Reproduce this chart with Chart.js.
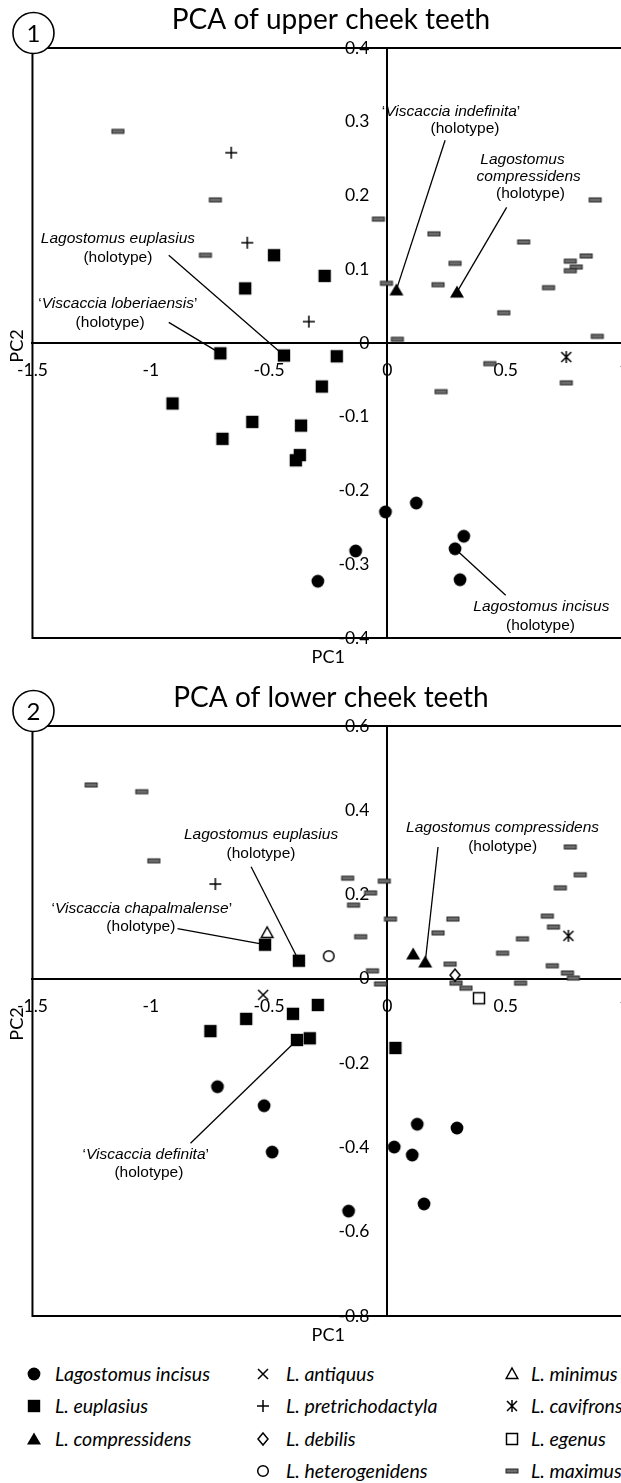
<!DOCTYPE html>
<html>
<head>
<meta charset="utf-8">
<script src="https://cdn.jsdelivr.net/npm/chart.js@4.4.1/dist/chart.umd.min.js"></script>
<style>
  html, body { margin: 0; padding: 0; background: #fff; }
  body { position: relative; width: 621px; height: 1483px; overflow: hidden; }
  canvas.plot { position: absolute; left: 0; }
  #upper { top: 0; }
  #lower { top: 678px; }
  .mk { position: absolute; }
  .lg { position: absolute; font: italic 19.5px Lato, sans-serif; line-height: 24px; color: #000; white-space: nowrap; }
</style>
</head>
<body>
<canvas id="upper" class="plot" width="680" height="678"></canvas>
<canvas id="lower" class="plot" width="680" height="678"></canvas>
<div id="legend"></div>
<script>
// PC1 / PC2 scores, upper cheek teeth
const upperIncisus = [[-0.008, -0.229], [0.122, -0.217], [0.323, -0.262], [0.286, -0.279], [0.307, -0.321], [-0.134, -0.282], [-0.294, -0.323]];
const upperEuplasius = [[-0.479, 0.119], [-0.601, 0.074], [-0.265, 0.091], [-0.706, -0.014], [-0.437, -0.017], [-0.908, -0.082], [-0.571, -0.107],
  [-0.697, -0.130], [-0.365, -0.112], [-0.370, -0.152], [-0.387, -0.159], [-0.214, -0.018], [-0.277, -0.059]];
const upperCompressidens = [[0.038, 0.072], [0.294, 0.069]];
const upperPretrichodactyla = [[-0.660, 0.258], [-0.592, 0.136], [-0.332, 0.029]];
const upperCavifrons = [[0.756, -0.019]];
const upperMaximus = [[-1.139, 0.287], [-0.727, 0.194], [-0.769, 0.119], [-0.038, 0.168], [-0.004, 0.081], [0.197, 0.148], [0.286, 0.108],
  [0.214, 0.079], [0.576, 0.137], [0.681, 0.075], [0.492, 0.041], [0.878, 0.194], [0.840, 0.118], [0.773, 0.111], [0.798, 0.103],
  [0.773, 0.098], [0.887, 0.009], [0.042, 0.005], [0.433, -0.028], [0.227, -0.066], [0.756, -0.054]];

// lower cheek teeth
const lowerIncisus = [[-0.718, -0.256], [-0.521, -0.301], [-0.487, -0.411], [-0.164, -0.551], [0.029, -0.399], [0.126, -0.345],
  [0.105, -0.418], [0.294, -0.354], [0.155, -0.534]];
const lowerEuplasius = [[-0.517, 0.081], [-0.374, 0.043], [-0.748, -0.124], [-0.597, -0.095], [-0.399, -0.083], [-0.294, -0.062],
  [-0.382, -0.145], [-0.328, -0.141], [0.034, -0.164]];
const lowerCompressidens = [[0.109, 0.059], [0.160, 0.040]];
const lowerAntiquus = [[-0.525, -0.038]];
const lowerPretrichodactyla = [[-0.727, 0.225]];
const lowerDebilis = [[0.286, 0.009]];
const lowerHeterogenidens = [[-0.248, 0.054]];
const lowerMinimus = [[-0.508, 0.109]];
const lowerCavifrons = [[0.765, 0.102]];
const lowerEgenus = [[0.387, -0.046]];
const lowerMaximus = [[-1.252, 0.460], [-1.038, 0.444], [-0.987, 0.280], [-0.168, 0.239], [-0.013, 0.232], [-0.071, 0.204], [-0.143, 0.175],
  [0.013, 0.142], [-0.113, 0.100], [0.214, 0.109], [0.277, 0.142], [0.487, 0.061], [0.571, 0.095], [0.773, 0.313], [0.815, 0.247],
  [0.731, 0.216], [0.676, 0.149], [0.702, 0.123], [0.697, 0.031], [0.761, 0.014], [0.786, 0.002], [0.265, 0.035], [-0.063, 0.019],
  [-0.029, -0.012], [0.290, -0.010], [0.332, -0.022], [0.563, -0.010]];

const xTickValues = [-1.5, -1, -0.5, 0, 0.5, 1];
const xTickLabels = ['-1.5', '-1', '-0.5', '0', '0.5', '1'];
const upperYTicks = [0.4, 0.3, 0.2, 0.1, 0, -0.1, -0.2, -0.3, -0.4];
const upperYLabels = ['0.4', '0.3', '0.2', '0.1', '0', '-0.1', '-0.2', '-0.3', '-0.4'];
const lowerYTicks = [0.6, 0.4, 0.2, 0, -0.2, -0.4, -0.6, -0.8];
const lowerYLabels = ['0.6', '0.4', '0.2', '0', '-0.2', '-0.4', '-0.6', '-0.8'];

const speciesNames = ['Lagostomus incisus', 'L. euplasius', 'L. compressidens', 'L. antiquus', 'L. pretrichodactyla', 'L. debilis',
  'L. heterogenidens', 'L. minimus', 'L. cavifrons', 'L. egenus', 'L. maximus'];
const speciesMarkers = ['dot', 'square', 'triangle', 'cross', 'plus', 'diamond', 'ring', 'openTriangle', 'asterisk', 'openSquare', 'bar'];
const legendColumns = [[0, 1, 2], [3, 4, 5, 6], [7, 8, 9, 10]];

// holotype call-outs: text centres and line start in data units, line ends on a plotted point
const upperNotes = [
  { lines: [['‘Viscaccia indefinita’', 0.269, 0.313], ['(holotype)', 0.328, 0.290]], from: [0.244, 0.275], to: upperCompressidens[0] },
  { lines: [['Lagostomus', 0.571, 0.248], ['compressidens', 0.597, 0.225], ['(holotype)', 0.605, 0.202]], from: [0.504, 0.184], to: upperCompressidens[1] },
  { lines: [['Lagostomus euplasius', -1.139, 0.142], ['(holotype)', -1.139, 0.115]], from: [-0.924, 0.119], to: upperEuplasius[4] },
  { lines: [['‘Viscaccia loberiaensis’', -1.139, 0.053], ['(holotype)', -1.172, 0.028]], from: [-0.924, 0.028], to: upperEuplasius[3] },
  { lines: [['Lagostomus incisus', 0.651, -0.358], ['(holotype)', 0.647, -0.384]], from: [0.500, -0.342], to: upperIncisus[3] }
];
const lowerNotes = [
  { lines: [['Lagostomus euplasius', -0.534, 0.341], ['(holotype)', -0.534, 0.296]], from: [-0.576, 0.266], to: lowerEuplasius[1] },
  { lines: [['‘Viscaccia chapalmalense’', -1.038, 0.166], ['(holotype)', -1.042, 0.123]], from: [-0.887, 0.119], to: lowerEuplasius[0] },
  { lines: [['Lagostomus compressidens', 0.487, 0.358], ['(holotype)', 0.487, 0.313]], from: [0.214, 0.313], to: lowerCompressidens[1] },
  { lines: [['‘Viscaccia definita’', -1.021, -0.418], ['(holotype)', -1.008, -0.461]], from: [-0.832, -0.390], to: lowerEuplasius[6] }
];

// marker glyphs, drawn once and used as pointStyle images
function makeMarker(kind) {
  const c = document.createElement('canvas');
  c.width = 18; c.height = 18;
  const g = c.getContext('2d');
  const m = 9;
  g.fillStyle = '#000'; g.strokeStyle = '#000'; g.lineWidth = 1.5;
  g.beginPath();
  if (kind === 'dot') { g.arc(m, m, 6.4, 0, Math.PI * 2); g.fill(); }
  else if (kind === 'square') { g.rect(m - 6.2, m - 6.2, 12.4, 12.4); g.fill(); }
  else if (kind === 'triangle') { g.moveTo(m, m - 6.5); g.lineTo(m + 7, m + 5.5); g.lineTo(m - 7, m + 5.5); g.closePath(); g.fill(); }
  else if (kind === 'cross') { g.moveTo(m - 5, m - 5); g.lineTo(m + 5, m + 5); g.moveTo(m + 5, m - 5); g.lineTo(m - 5, m + 5); g.stroke(); }
  else if (kind === 'plus') { g.moveTo(m - 6, m); g.lineTo(m + 6, m); g.moveTo(m, m - 6); g.lineTo(m, m + 6); g.stroke(); }
  else if (kind === 'diamond') { g.moveTo(m, m - 6); g.lineTo(m + 5, m); g.lineTo(m, m + 6); g.lineTo(m - 5, m); g.closePath(); g.fillStyle = '#fff'; g.fill(); g.stroke(); }
  else if (kind === 'ring') { g.arc(m, m, 5.3, 0, Math.PI * 2); g.fillStyle = '#fff'; g.fill(); g.stroke(); }
  else if (kind === 'openTriangle') { g.moveTo(m, m - 6); g.lineTo(m + 5.8, m + 4.5); g.lineTo(m - 5.8, m + 4.5); g.closePath(); g.fillStyle = '#fff'; g.fill(); g.stroke(); }
  else if (kind === 'asterisk') {
    g.moveTo(m - 5, m - 5); g.lineTo(m + 5, m + 5); g.moveTo(m + 5, m - 5); g.lineTo(m - 5, m + 5);
    g.moveTo(m, m - 6); g.lineTo(m, m + 6); g.stroke();
  }
  else if (kind === 'openSquare') { g.rect(m - 5.5, m - 5.5, 11, 11); g.fillStyle = '#fff'; g.fill(); g.stroke(); }
  else if (kind === 'bar') { g.fillStyle = '#262626'; g.fillRect(m - 6.5, m - 2.5, 13, 5); g.fillStyle = '#6c6c6c'; g.fillRect(m - 5.5, m - 1.5, 11, 3); }
  return c;
}
const markers = {};
speciesMarkers.forEach(k => { markers[k] = makeMarker(k); });

const noteFont = (italic) => (italic ? 'italic ' : '') + '15.5px "Liberation Sans", Arial, sans-serif';

function drawNoteText(ctx, text, cx, cy) {
  const parts = text.split(/([‘’])/).filter(Boolean).map(t => ({ t, it: !(t === '‘' || t === '’' || t.startsWith('(')) }));
  let total = 0;
  parts.forEach(p => { ctx.font = noteFont(p.it); p.w = ctx.measureText(p.t).width; total += p.w; });
  let x = cx - total / 2;
  ctx.textAlign = 'left';
  ctx.textBaseline = 'middle';
  parts.forEach(p => { ctx.font = noteFont(p.it); ctx.fillText(p.t, x, cy); x += p.w; });
}

// frame, y tick labels, title, badge and axis names
const panelPlugin = {
  id: 'panel',
  beforeDatasetsDraw(chart, args, opts) {
    const { ctx, chartArea: a, scales: { x, y } } = chart;
    ctx.save();
    ctx.strokeStyle = '#000';
    ctx.lineWidth = 2;
    ctx.strokeRect(a.left, a.top, a.right - a.left, a.bottom - a.top);
    ctx.fillStyle = '#000';
    ctx.font = '17.5px Lato, sans-serif';
    ctx.textAlign = 'right';
    ctx.textBaseline = 'middle';
    const x0 = x.getPixelForValue(0);
    opts.yTicks.forEach((v, i) => ctx.fillText(opts.yLabels[i], x0 - 18, y.getPixelForValue(v)));
    ctx.restore();
  },
  afterDraw(chart, args, opts) {
    const { ctx, chartArea: a } = chart;
    ctx.save();
    ctx.fillStyle = '#000';
    ctx.textAlign = 'center';
    ctx.textBaseline = 'middle';
    ctx.font = '28px Lato, sans-serif';
    ctx.fillText(opts.title, 331, a.top - 28);
    ctx.font = '18px Lato, sans-serif';
    ctx.fillText('PC1', (a.left + a.right) / 2, a.bottom + 19);
    ctx.save();
    ctx.translate(17, (a.top + a.bottom) / 2 + 3);
    ctx.rotate(-Math.PI / 2);
    ctx.fillText('PC2', 0, 0);
    ctx.restore();
    ctx.beginPath();
    ctx.arc(a.left + 1, a.top - 15, 20.5, 0, Math.PI * 2);
    ctx.fillStyle = '#fff';
    ctx.fill();
    ctx.lineWidth = 1.6;
    ctx.strokeStyle = '#000';
    ctx.stroke();
    ctx.fillStyle = '#000';
    ctx.font = '24px Lato, sans-serif';
    ctx.fillText(opts.badge, a.left + 1, a.top - 14);
    ctx.restore();
  }
};

const holotypePlugin = {
  id: 'holotypes',
  beforeDatasetsDraw(chart, args, opts) {
    const { ctx, scales: { x, y } } = chart;
    ctx.save();
    ctx.strokeStyle = '#000';
    ctx.fillStyle = '#000';
    ctx.lineWidth = 1.3;
    opts.notes.forEach(n => {
      ctx.beginPath();
      ctx.moveTo(x.getPixelForValue(n.from[0]), y.getPixelForValue(n.from[1]));
      ctx.lineTo(x.getPixelForValue(n.to[0]), y.getPixelForValue(n.to[1]));
      ctx.stroke();
      n.lines.forEach(l => drawNoteText(ctx, l[0], x.getPixelForValue(l[1]), y.getPixelForValue(l[2])));
    });
    ctx.restore();
  }
};

function series(points, species) {
  const marker = speciesMarkers[species];
  return {
    label: speciesNames[species],
    data: points.map(p => ({ x: p[0], y: p[1] })),
    pointStyle: markers[marker],
    pointRadius: 7,
    pointHoverRadius: 7
  };
}

function buildChart(id, datasets, yMin, yMax, yTicks, yLabels, title, badge, notes) {
  return new Chart(document.getElementById(id), {
    type: 'scatter',
    data: { datasets },
    options: {
      responsive: false,
      animation: false,
      events: [],
      layout: { padding: { left: 29, top: 48, right: 56, bottom: 40 } },
      plugins: {
        legend: { display: false },
        tooltip: { enabled: false },
        panel: { title, badge, yTicks, yLabels },
        holotypes: { notes }
      },
      scales: {
        x: {
          type: 'linear', min: -1.5, max: 1,
          position: { y: 0 },
          afterFit: s => { s.height = 0; },
          afterBuildTicks: s => { s.ticks = xTickValues.map(v => ({ value: v })); },
          grid: { display: false, drawTicks: false },
          border: { color: '#000', width: 2 },
          ticks: {
            autoSkip: false, maxRotation: 0, padding: 17, color: '#000',
            font: { family: 'Lato', size: 17.5 },
            callback: (v, i) => xTickLabels[i]
          }
        },
        y: {
          type: 'linear', min: yMin, max: yMax,
          position: { x: 0 },
          afterFit: s => { s.width = 0; },
          grid: { display: false, drawTicks: false },
          border: { color: '#000', width: 2 },
          ticks: { display: false }
        }
      }
    },
    plugins: [panelPlugin, holotypePlugin]
  });
}

// datasets listed top-most first; maximus last so it sits underneath
const upperChart = buildChart('upper', [
  series(upperIncisus, 0), series(upperEuplasius, 1), series(upperCompressidens, 2),
  series(upperPretrichodactyla, 4), series(upperCavifrons, 8), series(upperMaximus, 10)
], -0.4, 0.4, upperYTicks, upperYLabels, 'PCA of upper cheek teeth', '1', upperNotes);

const lowerChart = buildChart('lower', [
  series(lowerIncisus, 0), series(lowerEuplasius, 1), series(lowerCompressidens, 2), series(lowerAntiquus, 3),
  series(lowerPretrichodactyla, 4), series(lowerDebilis, 5), series(lowerHeterogenidens, 6), series(lowerMinimus, 7),
  series(lowerCavifrons, 8), series(lowerEgenus, 9), series(lowerMaximus, 10)
], -0.8, 0.6, lowerYTicks, lowerYLabels, 'PCA of lower cheek teeth', '2', lowerNotes);

// legend: three columns under the second plot
const colMarkerX = [34, 263, 512];
const colTextX = [55, 286, 531];
const rowY = [1374, 1406, 1439, 1471];
const legend = document.getElementById('legend');
legendColumns.forEach((col, ci) => {
  col.forEach((sp, ri) => {
    const c = document.createElement('canvas');
    c.width = 18; c.height = 18; c.className = 'mk';
    c.style.left = (colMarkerX[ci] - 9) + 'px';
    c.style.top = (rowY[ri] - 9) + 'px';
    c.getContext('2d').drawImage(markers[speciesMarkers[sp]], 0, 0);
    legend.appendChild(c);
    const t = document.createElement('div');
    t.className = 'lg';
    t.textContent = speciesNames[sp];
    t.style.left = colTextX[ci] + 'px';
    t.style.top = (rowY[ri] - 12) + 'px';
    legend.appendChild(t);
  });
});

if (document.fonts) document.fonts.ready.then(() => { upperChart.draw(); lowerChart.draw(); });
</script>
</body>
</html>
